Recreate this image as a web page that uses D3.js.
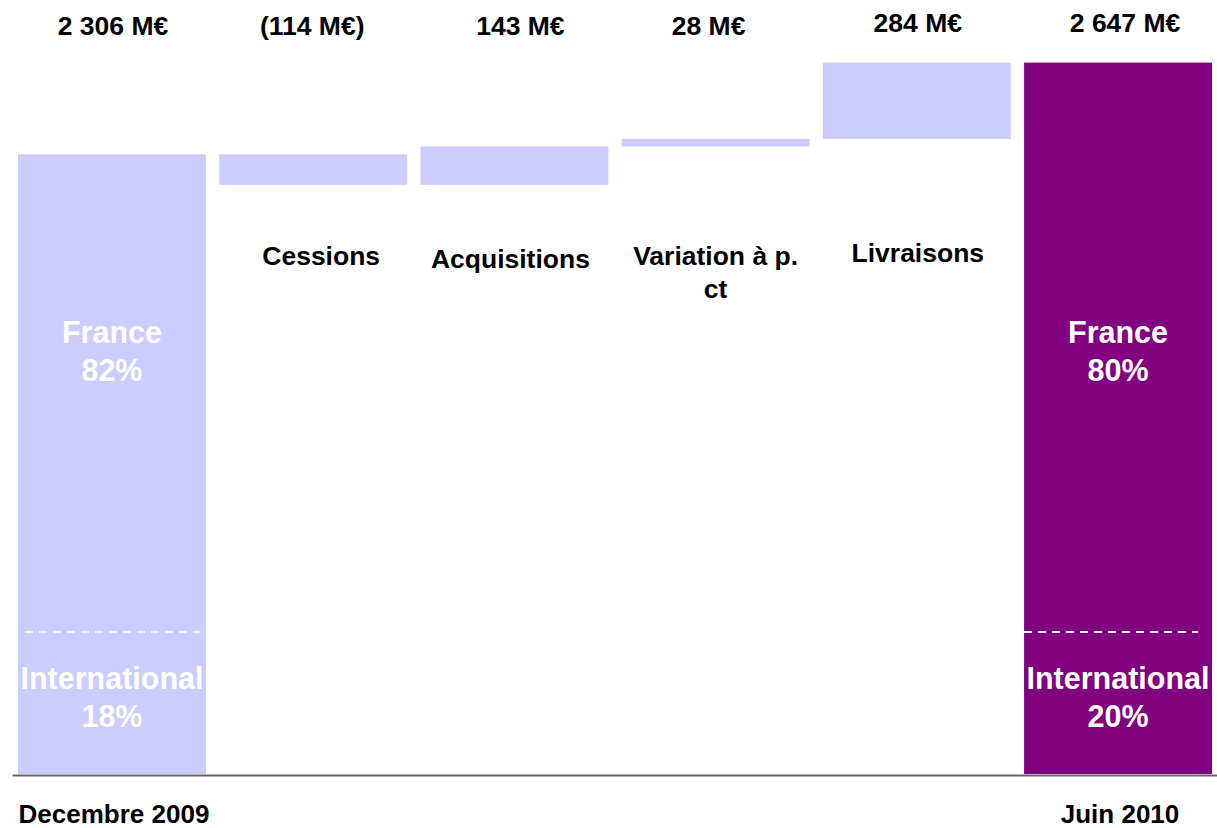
<!DOCTYPE html>
<html>
<head>
<meta charset="utf-8">
<script src="https://cdn.jsdelivr.net/npm/d3@7"></script>
<style>
  html, body { margin: 0; padding: 0; background: #fff; }
  svg { display: block; }
  text { font-family: "Liberation Sans", Arial, sans-serif; font-weight: bold; }
</style>
</head>
<body>
<svg id="chart" width="1217" height="828"></svg>
<script>
// Patrimoine: passage de décembre 2009 à juin 2010 (M€)
const categories = ["Decembre 2009", "Cessions", "Acquisitions", "Variation à p. ct", "Livraisons", "Juin 2010"];
const kinds      = ["total", "delta", "delta", "delta", "delta", "total"];
const values     = [2306, -114, 143, 28, 284, 2647];

// Lignes des libellés de catégorie (affichés sous les barres de variation)
const categoryLines = [["Decembre 2009"], ["Cessions"], ["Acquisitions"], ["Variation à p.", "ct"], ["Livraisons"], ["Juin 2010"]];

// Répartition géographique des barres de total
const segmentNames = ["France", "International"];
const shareStart   = [82, 18];
const shareEnd     = [80, 20];
const dividerValue = 528; // niveau du pointillé France / International

// ---- mise en page ----
const W = 1217, H = 828;
const baseY = 774;
const svg = d3.select("#chart");

const x = d3.scaleBand().domain(categories).range([18, 1212]).paddingInner(0.066).paddingOuter(0);
const y = d3.scaleLinear().domain([0, 2880]).range([baseY, 0]);

const colorLight = "#ccccff";
const colorDark  = "#800080";

// calcul des marches de la cascade
let running = 0;
const steps = categories.map((c, i) => {
  let y0, y1;
  if (kinds[i] === "total") { y0 = 0; y1 = values[i]; running = values[i]; }
  else { y0 = running; y1 = running + values[i]; running = y1; }
  return { cat: c, kind: kinds[i], value: values[i], lo: Math.min(y0, y1), hi: Math.max(y0, y1), idx: i };
});

const fmt = v => {
  const s = d3.format(",")(Math.abs(v)).replace(/,/g, " ") + " M€";
  return v < 0 ? "(" + s + ")" : s;
};

// barres
svg.append("g").selectAll("rect").data(steps).join("rect")
  .attr("x", d => x(d.cat))
  .attr("width", x.bandwidth())
  .attr("y", d => y(d.hi))
  .attr("height", d => y(d.lo) - y(d.hi))
  .attr("fill", d => d.idx === steps.length - 1 ? colorDark : colorLight);

// pointillés France / International sur les barres de total
const totals = steps.filter(d => d.kind === "total");
svg.append("g").selectAll("line").data(totals).join("line")
  .attr("x1", d => x(d.cat) + (d.idx === 0 ? 7 : 0))
  .attr("x2", d => x(d.cat) + x.bandwidth() - (d.idx === 0 ? 6 : 14))
  .attr("y1", y(dividerValue))
  .attr("y2", y(dividerValue))
  .attr("stroke", "#ffffff")
  .attr("stroke-width", 2)
  .attr("stroke-dasharray", "8,6")
  .attr("opacity", d => d.idx === 0 ? 0.75 : 1);

// libellés des segments (blanc, dans les barres)
const segBaselines = [[343, 381], [689, 727]];
totals.forEach((d, ti) => {
  const shares = ti === 0 ? shareStart : shareEnd;
  const cx = x(d.cat) + x.bandwidth() / 2;
  segmentNames.forEach((name, si) => {
    const t = svg.append("text")
      .attr("text-anchor", "middle")
      .attr("font-size", 30.5)
      .attr("fill", "#ffffff");
    t.append("tspan").attr("x", cx).attr("y", segBaselines[si][0]).text(name);
    t.append("tspan").attr("x", cx).attr("y", segBaselines[si][1]).text(shares[si] + "%");
  });
});

// valeurs en haut
const valueBaseline = [35, 35, 35, 35, 32, 32];
svg.append("g").selectAll("text").data(steps).join("text")
  .attr("x", d => x(d.cat) + x.bandwidth() / 2 + [1, -1, 6, -7, 1, 7][d.idx])
  .attr("y", d => valueBaseline[d.idx])
  .attr("text-anchor", "middle")
  .attr("font-size", 26.5)
  .attr("fill", "#000")
  .text(d => fmt(d.value));

// libellés des variations (sous les barres)
const catBaseline = [0, 265, 268, 265, 262, 0];
steps.filter(d => d.kind === "delta").forEach(d => {
  const cx = x(d.cat) + x.bandwidth() / 2 + [0, 8, -4, 0, 1, 0][d.idx];
  const t = svg.append("text")
    .attr("text-anchor", "middle")
    .attr("font-size", 26.5)
    .attr("fill", "#000");
  categoryLines[d.idx].forEach((line, li) => {
    t.append("tspan").attr("x", cx).attr("y", catBaseline[d.idx] + li * 33).text(line);
  });
});

// libellés des totaux sous l'axe
svg.append("g").selectAll("text").data(totals).join("text")
  .attr("x", d => x(d.cat) + x.bandwidth() / 2 + 2)
  .attr("y", 823)
  .attr("text-anchor", "middle")
  .attr("font-size", 26)
  .attr("fill", "#000")
  .text(d => categoryLines[d.idx][0]);

// axe horizontal
const axisScale = d3.scaleLinear().range([12, W]);
const axisG = svg.append("g").attr("transform", `translate(0,${baseY + 1})`)
  .call(d3.axisBottom(axisScale).ticks(0).tickSizeOuter(0));
axisG.select(".domain").attr("stroke", "#666666").attr("stroke-width", 2);
</script>
</body>
</html>
